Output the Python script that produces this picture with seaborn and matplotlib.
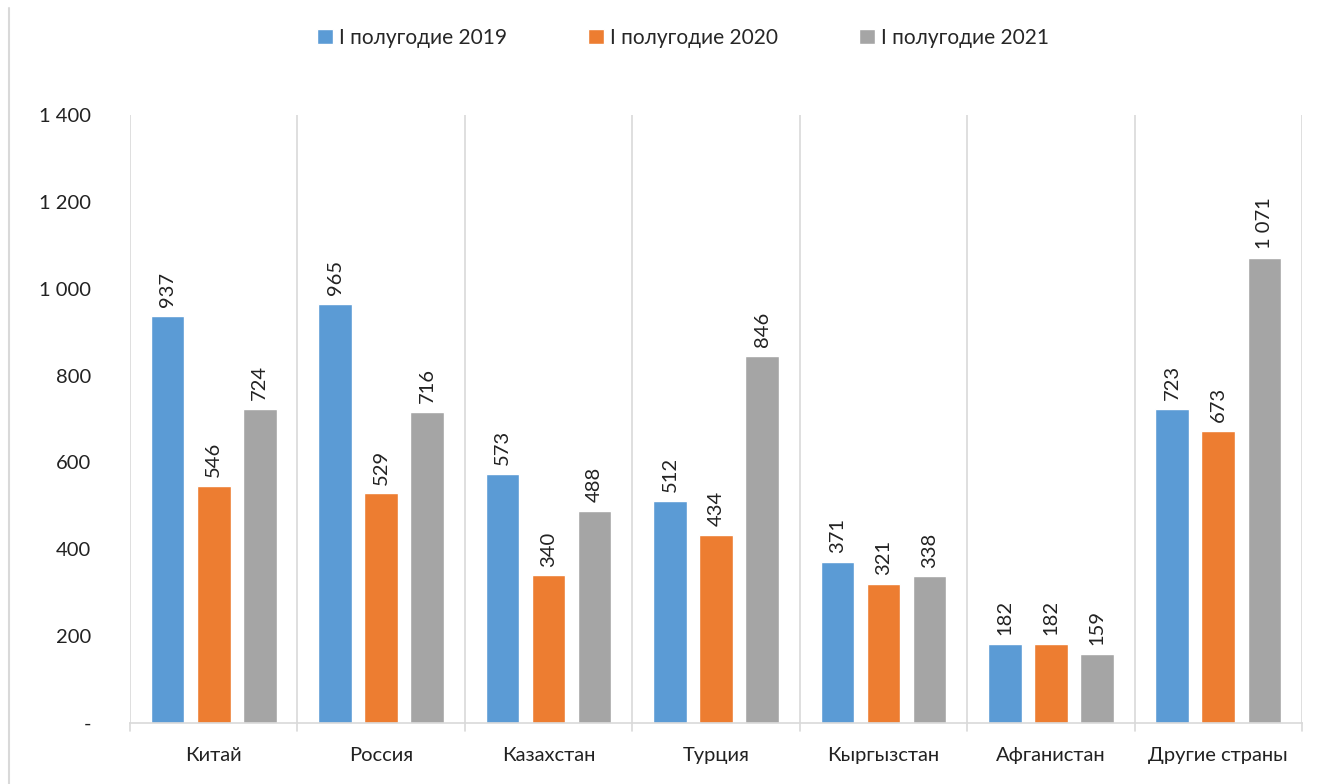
import numpy as np
import pandas as pd
import matplotlib.pyplot as plt
import seaborn as sns
from matplotlib.ticker import FuncFormatter

# ─── DATA ────────────────────────────────────────────────────────────────────

countries = ["Китай", "Россия", "Казахстан", "Турция", "Кыргызстан", "Афганистан", "Другие страны"]
periods = ["I полугодие 2019", "I полугодие 2020", "I полугодие 2021"]
h1_2019 = [937, 965, 573, 512, 371, 182, 723]
h1_2020 = [546, 529, 340, 434, 321, 182, 673]
h1_2021 = [724, 716, 488, 846, 338, 159, 1071]
colors = ["#5B9BD5", "#ED7D31", "#A5A5A5"]

df = pd.DataFrame({
    "country": countries * 3,
    "period": np.repeat(periods, len(countries)),
    "value": h1_2019 + h1_2020 + h1_2021,
})


def fmt_num(v):
    if v == 0:
        return "-"
    return f"{int(v):,}".replace(",", " ")


# ─── PLOT ────────────────────────────────────────────────────────────────────

sns.set_theme(style="white")
plt.rcParams["font.family"] = ["Lato", "DejaVu Sans"]

FS = 14.5
fig = plt.figure(figsize=(13.35, 7.84), dpi=100)
ax = fig.add_axes([130 / 1335, 61 / 784, (1302 - 130) / 1335, (723 - 115) / 784])

sns.barplot(data=df, x="country", y="value", hue="period", palette=colors,
            width=0.825, gap=0.27, ax=ax, legend=True, saturation=1)

# labels above bars, rotated
for cont in ax.containers:
    for bar in cont:
        h = bar.get_height()
        ax.text(bar.get_x() + bar.get_width() / 2, h + 20, fmt_num(h),
                rotation=90, ha="center", va="bottom", fontsize=FS, color="#222222")

ax.set_ylim(0, 1400)
ax.set_xlim(-0.5, len(countries) - 0.5)
ax.set_yticks(range(0, 1401, 200))
ax.yaxis.set_major_formatter(FuncFormatter(lambda v, p: fmt_num(v)))
ax.set_xlabel("")
ax.set_ylabel("")

# separators between categories
for xb in np.arange(-0.5, len(countries), 1.0):
    ax.axvline(xb, color="#D9D9D9", lw=1.2, zorder=0)
    ax.plot([xb, xb], [0, -0.013], transform=ax.get_xaxis_transform(),
            color="#D9D9D9", lw=1.2, clip_on=False)

for s in ["top", "right", "left"]:
    ax.spines[s].set_visible(False)
ax.spines["bottom"].set_color("#D9D9D9")
ax.spines["bottom"].set_linewidth(1.2)
ax.tick_params(axis="x", length=0, pad=17, labelsize=FS, colors="#222222")
ax.tick_params(axis="y", length=0, pad=28, labelsize=FS, colors="#222222")

leg = ax.legend(loc="center", bbox_to_anchor=(0.472, (784 - 38 - 61) / (723 - 115)),
                ncol=3, frameon=False, fontsize=15, handlelength=0.75, handleheight=0.75,
                columnspacing=3.9, handletextpad=0.3)

# chart border (left edge visible) and cut-off unit note
fig.add_artist(plt.Line2D([9 / 1335, 9 / 1335], [0, 1 - 8 / 784],
                          transform=fig.transFigure, color="#D9D9D9", lw=1.5))
fig.text(1330 / 1335, 1 + 12 / 784, "(млн. долл.)", ha="right", va="center",
         fontsize=FS, color="#222222")

fig.savefig("out.png", dpi=100)
